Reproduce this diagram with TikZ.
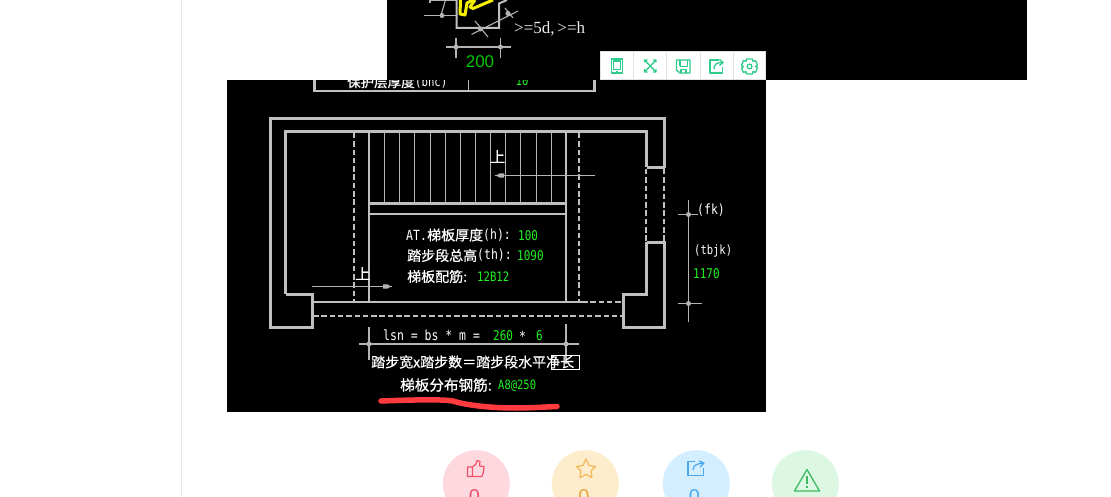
\documentclass[tikz,border=0pt]{standalone}
\usepackage{fontspec}
\setmainfont{DejaVu Sans Mono}[FakeStretch=0.82]
\newfontfamily\cjk{Noto Sans CJK SC}[FakeBold=0.6]
\newfontfamily\serifx{Liberation Serif}
\newfontfamily\sansx{Liberation Sans}
\definecolor{wallc}{HTML}{C0C0C0}
\definecolor{thinc}{HTML}{B4B4B4}
\definecolor{gval}{HTML}{22F022}
\definecolor{gdim}{HTML}{00C800}
\definecolor{tool}{HTML}{2FCB8B}
\definecolor{toolb}{HTML}{E2E2E2}
\definecolor{pagel}{HTML}{E8E8E8}
\definecolor{yel}{HTML}{F5F000}
\definecolor{scrib}{HTML}{FF3B40}
\tikzset{
  wall/.style={draw=wallc,line width=3pt},
  thick line/.style={draw=wallc,line width=2.2pt},
  dashwall/.style={draw=wallc,line width=2.2pt,dash pattern=on 5.5pt off 2.8pt},
  thin line/.style={draw=thinc,line width=1.1pt},
  tread/.style={draw=thinc,line width=1.1pt},
  dimdot/.style={fill=thinc,draw=none,minimum size=5pt,inner sep=0pt,circle},
  lbl/.style={anchor=west,inner sep=0pt,text=white,font=\fontsize{14}{14}\selectfont},
  cn/.style={anchor=west,inner sep=0pt,text=white,font=\fontsize{14}{14}\selectfont\cjk},
  val/.style={anchor=west,inner sep=0pt,text=gval,font=\fontsize{13.4}{14}\selectfont},
  icon/.style={draw=tool,line width=1.3pt,line join=round},
  disc/.style={circle,draw=none,minimum size=67pt,inner sep=0pt},
  zero/.style={inner sep=0pt,font=\fontsize{20}{20}\selectfont\sansx}
}
\begin{document}
\begin{tikzpicture}[x=1pt,y=-1pt]
\useasboundingbox (0,0) rectangle (1111,497);
\clip (0,0) rectangle (1111,497);
\fill[white] (0,0) rectangle (1111,497);
\draw[pagel,line width=1pt] (181.5,0) -- (181.5,497);
% lower screenshot, with its top text cut at y=80
\fill[black] (227,80) rectangle (766,412);
\begin{scope}
\clip (227,80) rectangle (766,412);
\node[cn,font=\fontsize{13.5}{14}\selectfont\cjk] (cover) at (347,82) {保护层厚度};
\node[lbl,font=\fontsize{13}{14}\selectfont] (coverv) at (415,82) {(bhc)};
\node[val,font=\fontsize{13}{14}\selectfont] (coverg) at (515.5,81) {10};
\draw[thick line] (314.5,80) -- (314.5,91) -- (594.5,91) -- (594.5,80);
\draw[thin line] (468.5,80) -- (468.5,90);
\end{scope}
% upper screenshot
\fill[black] (387,0) rectangle (1027,80);
\draw[thin line] (430,3) -- (430,0) (430,0.5) -- (456,0.5);
\draw[thin line] (445.5,0) -- (441,15);
\draw[thin line] (424,15.5) -- (456,15.5);
\node[dimdot] (da) at (442,15.5) {};
\draw[wallc,line width=2pt] (456.5,0) -- (456.5,28) -- (499,28) -- (499,3.5) -- (507,0);
\draw[yel,line width=3pt,line join=round] (460.5,0) -- (460,14) -- (465,15) -- (467,3) -- (473,0);
\draw[yel,line width=3pt,line join=round] (475,0) -- (470,7) -- (473,8.5) -- (493,0);
\draw[thin line] (471.5,34.5) -- (518,11);
\draw[thin line] (505,8) -- (513,18) (475,21) -- (488,37);
\node[dimdot] (db) at (508,13.5) {};
\node[dimdot] (dc) at (480.5,29) {};
\draw[thin line] (446,47) -- (511,47) (456,38) -- (456,58) (500.5,38) -- (500.5,58);
\node[dimdot] (dd) at (456,47) {};
\node[dimdot] (de) at (500.5,47) {};
\node[inner sep=0pt,text=gdim,font=\fontsize{17}{18}\selectfont\sansx] (top200) at (480,62) {200};
\node[anchor=west,inner sep=0pt,text=white!85!gray,font=\fontsize{17}{18}\selectfont\serifx] (rule) at (514,29) {>=5d,\,>=h};
% toolbar
\fill[white] (600,51) rectangle (766,80);
\draw[toolb,line width=1pt] (600.5,51.5) rectangle (765.5,79.5);
\foreach \x in {633.5,666.5,700,733} \draw[toolb,line width=1pt] (\x,51.5) -- (\x,79.5);
% tablet
\draw[icon] (611.5,59) rectangle (622.5,73);
\draw[icon] (613.5,61) rectangle (620.5,69.5);
\draw[icon] (616,71.3) -- (618,71.3);
% expand
\draw[icon] (644.5,62.5) -- (644.5,60) -- (647.5,60) (653,60) -- (656,60) -- (656,62.5)
  (656,69) -- (656,72) -- (653,72) (647.5,72) -- (644.5,72) -- (644.5,69)
  (645,60.5) -- (655.5,71.5) (655.5,60.5) -- (645,71.5);
% save
\draw[icon] (676.5,60) -- (690,60) -- (690,73) -- (680,73) -- (676.5,70) -- cycle;
\draw[icon] (680,66.5) -- (687.5,66.5) -- (687.5,60.5) (680,66.5) -- (680,60.5);
\draw[icon] (681,73) -- (681,69.5) -- (686,69.5) -- (686,73);
% share
\draw[icon] (719,60) -- (710,60) -- (710,73) -- (722.5,73) -- (722.5,67);
\draw[icon] (714,69) .. controls (714,64) and (717,62.5) .. (722,62.5);
\draw[icon] (719.5,59.5) -- (723,62.5) -- (719.5,65.5);
% gear
\draw[icon] (746.5,59) -- (752.5,59) -- (753,61.5) -- (755.5,60.5) -- (757.5,65.5) -- (755.5,66.5) -- (757.5,68) -- (755.5,72.5) -- (753,71.5) -- (752.5,74) -- (746.5,74) -- (746,71.5) -- (743.5,72.5) -- (741.5,68) -- (743.5,66.5) -- (741.5,65.5) -- (743.5,60.5) -- (746,61.5) -- cycle;
\draw[icon] (749.5,66.5) circle (2.4pt);

% stair plan
\draw[wall] (285.5,294) -- (285.5,132) -- (646.5,132) -- (646.5,167.5);
\draw[wall] (646.5,167.5) -- (664.5,167.5);
\draw[wall] (664.5,168.5) -- (664.5,118.5) -- (270.5,118.5) -- (270.5,327) -- (312.7,327) -- (312.7,294) -- (285.5,294);
\draw[wall] (646.5,242.5) -- (664.5,242.5);
\draw[wall] (664.5,241.5) -- (664.5,327) -- (623.5,327) -- (623.5,294) -- (646.5,294) -- (646.5,242.5);
\draw[dashwall] (646,169) -- (646,242);
\draw[dashwall] (664,169) -- (664,242);
\draw[dashwall] (354,133) -- (354,301);
\draw[dashwall] (579,133) -- (579,301);
\draw[thick line] (369,132) -- (369,302);
\draw[thick line] (566,132) -- (566,302);
\draw[thick line] (313,301.7) -- (582,301.7);
\draw[dashwall] (582,301.7) -- (622,301.7);
\draw[dashwall] (313,316) -- (622,316);
\draw[thick line] (369,203.5) -- (566,203.5);
\draw[thick line] (369,214) -- (566,214);
\foreach \x in {384.5,399.5,414.5,430.5,445.5,460.5,475.5,490.5,505.5,520.5,536.5,551.5}
  \draw[tread] (\x,132) -- (\x,203);
% run arrows
\draw[thin line] (495,175.5) -- (595,175.5);
\fill[thinc] (495,175.5) -- (499,174) -- (499,173.3) -- (504,173.3) -- (504,177.7) -- (499,177.7) -- (499,177) -- cycle;
\node[cn,font=\fontsize{15}{15}\selectfont\cjk] (upa) at (490,156.5) {上};
\draw[thin line] (312,286.5) -- (392,286.5);
\fill[thinc] (392,286.5) -- (388,288) -- (388,288.7) -- (383,288.7) -- (383,284.3) -- (388,284.3) -- (388,285) -- cycle;
\node[cn,font=\fontsize{15}{15}\selectfont\cjk] (upb) at (355,273.5) {上};
% side dimension
\draw[thin line] (688.5,200) -- (688.5,321.5);
\draw[thin line] (678,214.5) -- (698,214.5) (678,303.5) -- (702,303.5);
\node[dimdot] (dr1) at (688.5,214.5) {};
\node[dimdot] (dr2) at (688.5,303.5) {};
% bottom dimension
\draw[thin line] (359,344) -- (579,344) (369,327) -- (369,360) (566,324) -- (566,364);
\node[dimdot] (db1) at (369,344) {};
\node[dimdot] (db2) at (566,344) {};
% labels
\node[lbl] (t1a) at (406,235.5) {AT.};
\node[cn] (t1b) at (427,235) {梯板厚度};
\node[lbl] (t1c) at (483,235.5) {(h):};
\node[val] (t1d) at (518,235.5) {100};
\node[cn] (t2a) at (407,255.5) {踏步段总高};
\node[lbl] (t2b) at (477,255.5) {(th):};
\node[val] (t2c) at (517,255.5) {1090};
\node[cn] (t3a) at (407,276.5) {梯板配筋:};
\node[val,font=\fontsize{13}{14}\selectfont] (t3b) at (477,277) {12B12};
\node[lbl] (tfk) at (697,210) {(fk)};
\node[lbl,font=\fontsize{12.8}{14}\selectfont] (ttb) at (694,250.5) {(tbjk)};
\node[val] (t117) at (693,273.5) {1170};
\node[lbl] (tlsn) at (383,335.5) {lsn = bs * m =};
\node[val] (t260) at (493,335.5) {260};
\node[lbl] (tstar) at (519,336) {*};
\node[val] (t6) at (536,335.5) {6};
\node[cn,font=\fontsize{14}{15}\selectfont\cjk] (tstep) at (371,362) {踏步宽x踏步数＝踏步段水平净长};
\draw[white,line width=1pt] (551.7,355.5) rectangle (579.7,369);
\node[cn,font=\fontsize{14.6}{15}\selectfont\cjk] (tdist) at (400,385) {梯板分布钢筋:};
\node[val,font=\fontsize{12.8}{13}\selectfont] (tdistv) at (498,386) {A8@250};
% red scribble
\draw[scrib,line width=5.5pt,line cap=round,line join=round]
  (381,401) .. controls (410,400) and (440,399) .. (453,401)
  .. controls (465,405) and (490,408) .. (515,408)
  .. controls (530,408) and (545,407) .. (557,406.5);
% reaction buttons
\node[disc,fill={rgb,255:red,253;green,216;blue,223}] (b1) at (476.3,483.7) {};
\node[disc,fill={rgb,255:red,254;green,237;blue,204}] (b2) at (585.3,483.7) {};
\node[disc,fill={rgb,255:red,211;green,238;blue,255}] (b3) at (696.3,483.7) {};
\node[disc,fill={rgb,255:red,220;green,247;blue,226}] (b4) at (805.3,483.7) {};
\node[zero,text={rgb,255:red,240;green,81;blue,106}] (z1) at (474.5,497) {0};
\node[zero,text={rgb,255:red,230;green,166;blue,60}] (z2) at (584,497) {0};
\node[zero,text={rgb,255:red,74;green,168;blue,238}] (z3) at (694.5,497) {0};
% thumb
\draw[line width=1.2pt,draw={rgb,255:red,240;green,81;blue,106},line join=round]
  (467.5,467) rectangle (472.5,476.5)
  (472.5,467) -- (476,464) -- (477,460.5) -- (480,461.5) -- (479.5,466) -- (484,466.5) -- (483.5,472) -- (482,476.5) -- (472.5,476.5);
% star
\draw[line width=1.2pt,draw={rgb,255:red,243;green,183;blue,85},line join=round]
  (586,459) -- (589,465.5) -- (595.5,466.5) -- (591,471) -- (592,477.5) -- (586,474.5) -- (580,477.5) -- (581,471) -- (576.5,466.5) -- (583,465.5) -- cycle;
% share square
\draw[line width=1.2pt,draw={rgb,255:red,74;green,168;blue,238},line join=round]
  (695,461.5) -- (688,461.5) -- (688,475.5) -- (703.5,475.5) -- (703.5,468);
\draw[line width=1.2pt,draw={rgb,255:red,74;green,168;blue,238},line join=round]
  (693,470) .. controls (693,465) and (698,463.5) .. (703,463) (699,461) -- (704,463) -- (700,467);
% warning
\draw[line width=1.3pt,draw={rgb,255:red,61;green,186;blue,100},line join=round]
  (807,469.5) -- (819.5,491) -- (794.5,491) -- cycle;
\draw[line width=1.7pt,draw={rgb,255:red,61;green,186;blue,100}]
  (807,476) -- (807,484) (807,485.7) -- (807,487.8);
\end{tikzpicture}
\end{document}
